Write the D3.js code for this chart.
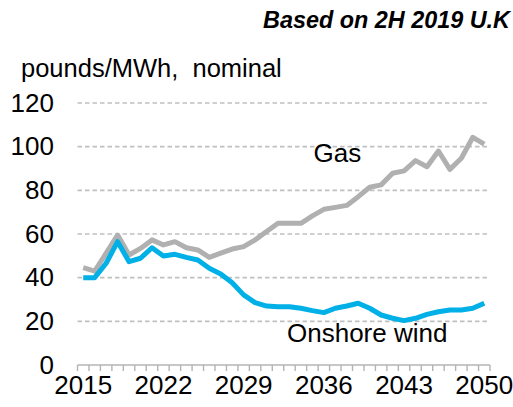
<!DOCTYPE html>
<html>
<head>
<meta charset="utf-8">
<script src="https://cdn.jsdelivr.net/npm/d3@7/dist/d3.min.js"></script>
<style>
  html, body { margin: 0; padding: 0; background: #fff; }
  svg { display: block; font-family: "Liberation Sans", Arial, sans-serif; }
</style>
</head>
<body>
<svg id="chart" width="513" height="407"></svg>
<script>
const years = d3.range(2015, 2051).map(String);
const tickLabels = ["2015", "2022", "2029", "2036", "2043", "2050"];
const yTicks = [0, 20, 40, 60, 80, 100, 120];
const gas = [44.6, 43.0, 51.2, 59.5, 50.4, 53.4, 57.3, 55.0, 56.5, 53.7, 52.7, 49.3,
             51.2, 53.1, 54.2, 57.3, 61.1, 64.9, 64.9, 64.9, 68.3, 71.3, 72.2, 73.1,
             77.1, 81.4, 82.5, 87.8, 88.9, 93.6, 90.8, 98.0, 89.6, 94.7, 104.3, 101.2];
const wind = [40.0, 40.0, 46.6, 56.5, 47.3, 48.9, 53.7, 49.9, 50.7, 49.3, 48.1, 44.3,
              41.7, 37.7, 32.1, 28.6, 27.0, 26.7, 26.7, 26.0, 24.9, 24.0, 26.0, 27.0,
              28.3, 26.0, 22.9, 21.4, 20.3, 21.4, 23.2, 24.4, 25.2, 25.2, 26.0, 28.3];

const svg = d3.select("#chart");
const mLeft = 77.5, mRight = 490, mTop = 103, mBottom = 365;

const x = d3.scaleBand().domain(years).range([mLeft, mRight]).padding(0);
const y = d3.scaleLinear().domain([0, 120]).range([mBottom, mTop]);

// title
svg.append("text")
  .attr("x", 263).attr("y", 28)
  .attr("font-size", 23.4).attr("font-weight", "bold").attr("font-style", "italic")
  .attr("fill", "#000")
  .text("Based on 2H 2019 U.K");

// unit label
svg.append("text")
  .attr("x", 21).attr("y", 77)
  .attr("font-size", 25.5).attr("fill", "#000")
  .style("white-space", "pre")
  .text("pounds/MWh,  nominal");

// gridlines
svg.append("g").selectAll("line")
  .data(yTicks.filter(d => d > 0))
  .join("line")
  .attr("x1", mLeft).attr("x2", mRight)
  .attr("y1", d => y(d)).attr("y2", d => y(d))
  .attr("stroke", "#c0c0c0").attr("stroke-width", 1.6)
  .attr("stroke-dasharray", "4.5,3");

// y axis labels
const yAxis = svg.append("g")
  .attr("transform", `translate(${mLeft},0)`)
  .call(d3.axisLeft(y).tickValues(yTicks).tickSize(0).tickPadding(23.5));
yAxis.select(".domain").remove();
yAxis.selectAll("text").attr("font-size", 26).attr("fill", "#000")
  .attr("font-family", "Liberation Sans, Arial, sans-serif");

// x axis line and boundary ticks
const edges = years.map(d => x(d)).concat([mRight]);
const xg = svg.append("g");
xg.append("line")
  .attr("x1", mLeft).attr("x2", mRight).attr("y1", mBottom).attr("y2", mBottom)
  .attr("stroke", "#b4b4b4").attr("stroke-width", 1.6);
xg.selectAll(".bt").data(edges).join("line").attr("class", "bt")
  .attr("x1", d => d).attr("x2", d => d)
  .attr("y1", mBottom).attr("y2", mBottom + 6)
  .attr("stroke", "#b4b4b4").attr("stroke-width", 1.4);

const xAxis = svg.append("g")
  .attr("transform", `translate(0,${mBottom})`)
  .call(d3.axisBottom(x).tickValues(tickLabels).tickSize(0).tickPadding(11));
xAxis.select(".domain").remove();
xAxis.selectAll("text").attr("font-size", 26).attr("fill", "#000")
  .attr("font-family", "Liberation Sans, Arial, sans-serif");

// lines
const line = vals => d3.line()
  .x((d, i) => x(years[i]) + x.bandwidth() / 2)
  .y(d => y(d))(vals);

svg.append("path").attr("d", line(gas))
  .attr("fill", "none").attr("stroke", "#b0b0b0").attr("stroke-width", 5)
  .attr("stroke-linejoin", "round");
svg.append("path").attr("d", line(wind))
  .attr("fill", "none").attr("stroke", "#00b0e6").attr("stroke-width", 5)
  .attr("stroke-linejoin", "round");

// series labels
svg.append("text").attr("x", 313.5).attr("y", 162)
  .attr("font-size", 26).attr("fill", "#000").text("Gas");
svg.append("text").attr("x", 287).attr("y", 341.5)
  .attr("font-size", 26).attr("fill", "#000")
  .text("Onshore wind");
</script>
</body>
</html>
